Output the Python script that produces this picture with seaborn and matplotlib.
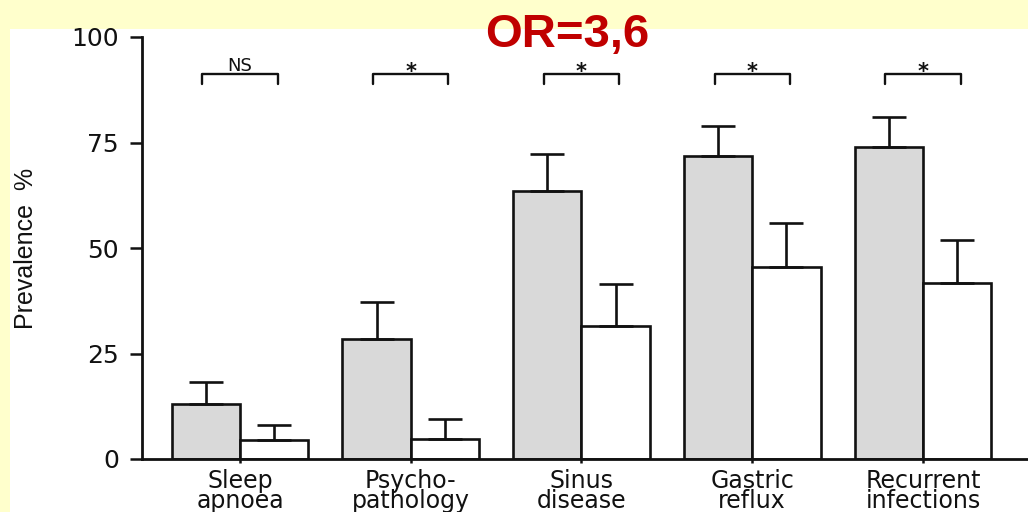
"""Prevalence of comorbidities in cases vs controls (OR=3,6)."""

import matplotlib

matplotlib.use("Agg")

import matplotlib.pyplot as plt
import pandas as pd
import seaborn as sns
from matplotlib.patches import Rectangle

CATEGORIES = [
    "Sleep\napnoea",
    "Psycho-\npathology",
    "Sinus\ndisease",
    "Gastric\nreflux",
    "Recurrent\ninfections",
]
GROUPS = ["Cases", "Controls"]
CASES = [13.0, 28.5, 63.4, 71.8, 74.0]
CONTROLS = [4.5, 4.7, 31.4, 45.6, 41.6]
CASES_ERR = [5.2, 8.6, 8.9, 7.0, 7.1]
CONTROLS_ERR = [3.6, 4.8, 10.1, 10.4, 10.2]
SIGNIFICANCE = ["NS", "*", "*", "*", "*"]
Y_TICKS = [0, 25, 50, 75, 100]
TITLE = "OR=3,6"

YELLOW = "#ffffcc"
GREY = "#d9d9d9"
INK = "#111111"
RED = "#c00000"

W, H = 1028, 512


def main() -> None:
    sns.set_theme(style="ticks")
    plt.rcParams["font.family"] = ["DejaVu Sans"]

    n = len(CATEGORIES)
    df = pd.DataFrame(
        {
            "condition": CATEGORIES * 2,
            "group": [GROUPS[0]] * n + [GROUPS[1]] * n,
            "prevalence": CASES + CONTROLS,
        }
    )

    fig = plt.figure(figsize=(W / 100, H / 100), dpi=100, facecolor=YELLOW)
    fig.patches.append(
        Rectangle(
            (10 / W, 0),
            1,
            (H - 29) / H,
            transform=fig.transFigure,
            facecolor="white",
            edgecolor="none",
            zorder=-1,
        )
    )
    ax = fig.add_axes([142 / W, 53 / H, (W - 142) / W, 422 / H])
    ax.set_facecolor("white")

    sns.barplot(
        data=df,
        x="condition",
        y="prevalence",
        hue="group",
        order=CATEGORIES,
        hue_order=GROUPS,
        palette=[GREY, "white"],
        saturation=1,
        edgecolor=INK,
        linewidth=1.9,
        width=0.8,
        errorbar=None,
        legend=False,
        ax=ax,
    )

    # one-sided error bars on top of each bar
    bars = sorted(ax.patches, key=lambda p: p.get_x())
    errs = [e for pair in zip(CASES_ERR, CONTROLS_ERR) for e in pair]
    xs = [b.get_x() + b.get_width() / 2 for b in bars]
    tops = [b.get_height() for b in bars]
    ax.errorbar(
        xs,
        tops,
        yerr=[[0] * len(errs), errs],
        fmt="none",
        ecolor=INK,
        elinewidth=1.9,
        capsize=12,
        capthick=1.9,
        zorder=3,
    )

    ax.set_xlim(-0.574, 4.615)
    ax.set_ylim(0, 100)
    ax.set_yticks(Y_TICKS)
    sns.despine(ax=ax)
    for side in ("left", "bottom"):
        ax.spines[side].set_linewidth(2.0)
        ax.spines[side].set_color(INK)

    # significance brackets
    for x, label in zip(ax.get_xticks(), SIGNIFICANCE):
        ax.plot(
            [x - 0.22, x - 0.22, x + 0.22, x + 0.22],
            [88.8, 91.2, 91.2, 88.8],
            color=INK,
            linewidth=1.7,
            clip_on=False,
        )
        if label == "*":
            ax.text(x, 90.4, label, ha="center", va="baseline", fontsize=15,
                    fontweight="bold", color=INK)
        else:
            ax.text(x, 92.0, label, ha="center", va="baseline", fontsize=13, color=INK)

    ax.tick_params(axis="y", length=8.6, width=1.8, pad=8, labelsize=18,
                   color=INK, labelcolor=INK)
    ax.tick_params(axis="x", length=3, width=1.8, pad=4, labelsize=17,
                   color=INK, labelcolor=INK)
    for t in ax.get_xticklabels():
        t.set_linespacing(0.78)

    ax.set_xlabel("")
    ax.set_ylabel("Prevalence  %", fontsize=18, family=["Liberation Sans"], color=INK)
    ax.yaxis.set_label_coords(-0.117, 0.5)

    fig.text(567 / W, 1 - 47 / H, TITLE, ha="center", va="baseline",
             fontsize=34, fontweight="bold", family=["Liberation Sans"], color=RED)

    fig.savefig("out.png", dpi=100, facecolor=fig.get_facecolor())
    plt.close(fig)


if __name__ == "__main__":
    main()
